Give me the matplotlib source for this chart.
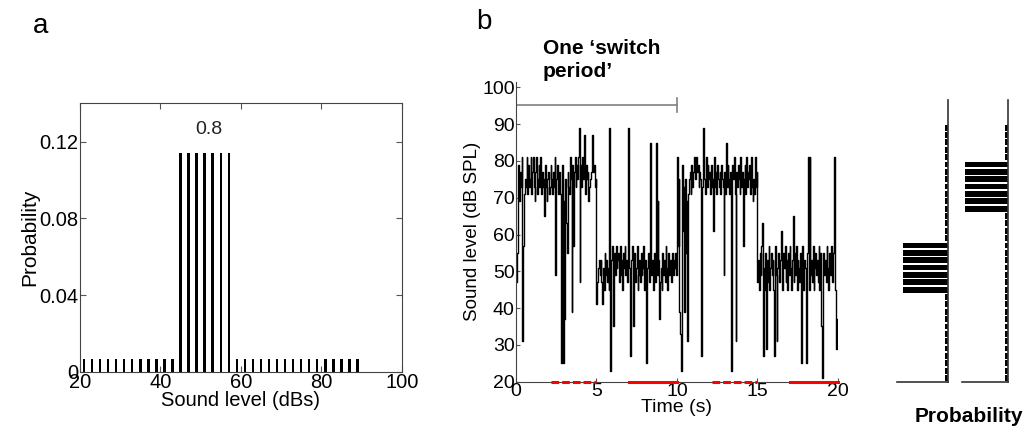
import numpy as np
import matplotlib.pyplot as plt

plt.rcParams['font.family'] = ['Liberation Sans', 'DejaVu Sans']

# sound levels (dB) used by the stimulus
levels = [21, 23, 25, 27, 29, 31, 33, 35, 37, 39, 41, 43,
          45, 47, 49, 51, 53, 55, 57,
          59, 61, 63, 65, 67, 69, 71, 73, 75, 77, 79, 81, 83, 85, 87, 89]
# probability of each level, quiet state (high-prob region 45-57)
prob_quiet = [0.007, 0.007, 0.007, 0.007, 0.007, 0.007, 0.007, 0.007, 0.007, 0.007, 0.007, 0.007,
              0.114, 0.114, 0.114, 0.114, 0.114, 0.114, 0.114,
              0.007, 0.007, 0.007, 0.007, 0.007, 0.007, 0.007, 0.007, 0.007, 0.007, 0.007, 0.007,
              0.007, 0.007, 0.007, 0.007]
# loud state (high-prob region 67-79)
prob_loud = [0.007, 0.007, 0.007, 0.007, 0.007, 0.007, 0.007, 0.007, 0.007, 0.007, 0.007, 0.007,
             0.007, 0.007, 0.007, 0.007, 0.007, 0.007, 0.007, 0.007, 0.007, 0.007, 0.007,
             0.114, 0.114, 0.114, 0.114, 0.114, 0.114, 0.114,
             0.007, 0.007, 0.007, 0.007, 0.007]

# sound level trace, one value every 50 ms
dt = 0.05
trace_0_5 = [47, 55, 71, 79, 69, 77, 73, 81, 31, 57, 71, 75, 73, 81, 71, 79, 73, 75, 81, 71,
             77, 81, 73, 69, 77, 81, 71, 75, 79, 73, 81, 71, 77, 73, 75, 65, 79, 73, 69, 75,
             77, 71, 73, 79, 75, 71, 77, 73, 81, 49, 75, 79, 71, 73, 77, 71, 25, 79, 25, 69,
             37, 75, 63, 55, 77, 73, 71, 81, 75, 39, 79, 57, 77, 81, 73, 79, 75, 81, 89, 47,
             79, 73, 81, 75, 77, 87, 71, 79, 75, 77, 69, 73, 75, 77, 79, 87, 77, 79, 73, 75]
trace_5_10 = [41, 47, 51, 53, 49, 53, 47, 41, 51, 45, 55, 49, 53, 47, 51, 45, 89, 23, 53, 57,
              45, 35, 55, 49, 57, 51, 53, 55, 47, 57, 49, 53, 45, 55, 51, 57, 49, 53, 47, 89,
              55, 51, 27, 53, 57, 49, 35, 55, 47, 51, 57, 45, 49, 53, 47, 55, 49, 51, 57, 45,
              53, 49, 25, 51, 55, 47, 63, 85, 49, 53, 45, 51, 55, 47, 85, 49, 69, 53, 37, 47,
              51, 45, 55, 49, 53, 47, 57, 51, 45, 55, 49, 53, 51, 47, 55, 49, 53, 51, 55, 49]
trace_10_15 = [81, 57, 75, 39, 33, 23, 79, 61, 73, 39, 75, 55, 69, 31, 71, 75, 77, 71, 79, 73,
               77, 81, 79, 75, 81, 77, 79, 73, 77, 75, 27, 73, 79, 89, 75, 71, 81, 73, 79, 75,
               77, 71, 79, 73, 75, 61, 81, 73, 77, 71, 79, 75, 73, 77, 71, 79, 75, 73, 49, 77,
               71, 85, 73, 79, 75, 71, 77, 23, 73, 79, 75, 81, 71, 31, 77, 73, 79, 75, 71, 81,
               73, 77, 57, 75, 79, 71, 81, 73, 77, 75, 79, 71, 81, 73, 69, 75, 71, 81, 73, 77]
trace_15_20 = [47, 53, 45, 55, 49, 57, 63, 27, 51, 45, 55, 29, 53, 47, 57, 45, 51, 55, 49, 53,
               45, 27, 57, 49, 31, 51, 55, 47, 53, 61, 49, 45, 55, 51, 57, 47, 53, 45, 55, 49,
               57, 51, 45, 53, 65, 47, 55, 49, 57, 45, 53, 51, 47, 55, 25, 49, 57, 45, 53, 51,
               47, 25, 55, 81, 45, 81, 49, 53, 47, 57, 45, 51, 55, 49, 53, 47, 57, 45, 55, 35,
               21, 43, 55, 49, 53, 47, 57, 51, 45, 55, 49, 53, 57, 47, 55, 81, 51, 45, 29, 37]

# red bars under the time axis (start, stop, dashed?)
red_segments = [(2.2, 5.0, True), (7.0, 10.0, False), (12.2, 15.0, True), (17.0, 20.0, False)]

trace = np.array(trace_0_5 + trace_5_10 + trace_10_15 + trace_15_20)
t = np.arange(len(trace)) * dt

fig = plt.figure(figsize=(10.28, 4.33), dpi=100)

# %% panel a
ax_a = fig.add_axes([0.0778, 0.1409, 0.313, 0.621])
ax_a.bar(levels, prob_quiet, width=0.6, color='k')
ax_a.set_xlim(20, 100)
ax_a.set_ylim(0, 0.14)
ax_a.set_xticks([20, 40, 60, 80, 100])
ax_a.set_yticks([0, 0.04, 0.08, 0.12])
ax_a.set_yticklabels(['0', '0.04', '0.08', '0.12'])
ax_a.tick_params(direction='in', top=True, right=True, labelsize=14.5, pad=1,
                 length=4, color='#555555')
for s in ax_a.spines.values():
    s.set_color('#444444')
ax_a.set_xlabel('Sound level (dBs)', fontsize=14.5, labelpad=-1)
ax_a.set_ylabel('Probability', fontsize=15, labelpad=0)
ax_a.text(52, 0.126, '0.8', ha='center', va='center', fontsize=14, color='#222222')
fig.text(0.039, 0.94, 'a', fontsize=20, ha='center', va='center')

# %% panel b
ax_b = fig.add_axes([0.502, 0.1185, 0.313, 0.6926])
ax_b.plot(t, trace, drawstyle='steps-post', color='k', lw=1.0)
ax_b.set_xlim(0, 20)
ax_b.set_ylim(20, 101.5)
ax_b.set_xticks([0, 5, 10, 15, 20])
ax_b.set_yticks(np.arange(20, 101, 10))
ax_b.spines['top'].set_visible(False)
ax_b.spines['right'].set_visible(False)
ax_b.spines['left'].set_color('#444444')
ax_b.spines['bottom'].set_color('#444444')
ax_b.tick_params(direction='in', labelsize=14, pad=1, length=3, color='#555555')
ax_b.set_xlabel('Time (s)', fontsize=14, labelpad=-1)
ax_b.set_ylabel('Sound level (dB SPL)', fontsize=13.5, labelpad=1)

# one switch period bracket
ax_b.plot([0, 10], [95.2, 95.2], color='#808080', lw=1.2)
ax_b.plot([0, 0], [93.4, 97.0], color='#808080', lw=1.2)
ax_b.plot([10, 10], [93.4, 97.0], color='#808080', lw=1.2)
fig.text(0.528, 0.861, 'One \u2018switch\nperiod\u2019',
         fontsize=15, fontweight='bold', ha='left', va='center', linespacing=1.25)

for x0, x1, dashed in red_segments:
    ax_b.plot([x0, x1], [20, 20], color='red', lw=2.2, clip_on=False, zorder=5,
              linestyle=(0, (2.5, 1)) if dashed else '-')

fig.text(0.471, 0.95, 'b', fontsize=20, ha='center', va='center')

# %% side histograms
side = [([0.8726, 0.1185, 0.0496, 0.6505], prob_quiet, 0.128),
        ([0.9355, 0.1185, 0.045, 0.6505], prob_loud, 0.122)]
for pos, probs, xmax in side:
    ax = fig.add_axes(pos)
    ax.barh(levels, probs, height=1.6, color='k')
    ax.set_xlim(xmax, 0)
    ax.set_ylim(20, 96.5)
    ax.set_xticks([])
    ax.set_yticks([])
    ax.spines['top'].set_visible(False)
    ax.spines['left'].set_visible(False)
    ax.spines['right'].set_color('#333333')
    ax.spines['bottom'].set_color('#333333')
    ax.spines['right'].set_linewidth(1.2)
    ax.spines['bottom'].set_linewidth(1.2)

fig.text(0.942, 0.037, 'Probability', fontsize=15, fontweight='bold',
         ha='center', va='center')

plt.savefig('out.png', dpi=100)
